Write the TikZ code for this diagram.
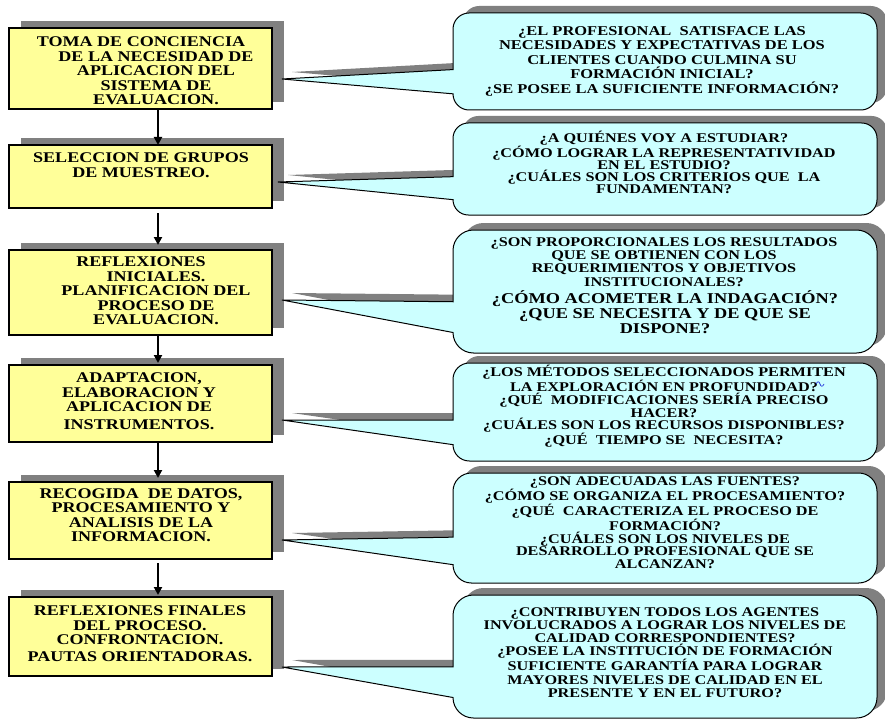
\documentclass[tikz,border=0pt]{standalone}
\usepackage{fontspec}
\setmainfont{Liberation Serif}
\newfontfamily\bx[FakeStretch=1.22]{Liberation Serif}
\usetikzlibrary{arrows.meta,calc,shadows}
\definecolor{yfill}{RGB}{255,255,153}
\definecolor{cfillc}{RGB}{204,255,255}
\definecolor{shd}{RGB}{128,128,128}
\definecolor{spell}{RGB}{40,60,220}
\tikzset{
  ybox/.style={draw=black, line width=1.2pt, fill=yfill, minimum width=263pt, inner sep=0pt, outer sep=0pt,
    drop shadow={shadow xshift=12pt, shadow yshift=7pt, fill=shd, opacity=1}},
  btext/.style={align=center, inner sep=0pt, font=\bx\bfseries\fontsize{14.8}{14.5}\selectfont},
  ctext/.style 2 args={align=center, inner sep=0pt, font=\bx\bfseries\fontsize{#1}{#2}\selectfont},
  flow/.style={line width=2.4pt, -{Triangle[length=8pt,width=8pt]}},
  cbody/.style={draw=black, line width=1pt, fill=cfillc},
  cshadow/.style={fill=shd},
}
\newcommand\qpath[3]{(453+#2,\cB+\cR+#3) -- (453+#2,\cYb+#3) -- ($(#1)+(#2,#3)$) -- (453+#2,\cYa+#3) -- (453+#2,\cT-\cR+#3) arc[start angle=180,end angle=90,radius=\cR] -- (877-\cR+#2,\cT+#3) arc[start angle=90,end angle=0,radius=\cR] -- (877+#2,\cB+\cR+#3) arc[start angle=0,end angle=-90,radius=\cR] -- (453+\cR+#2,\cB+#3) arc[start angle=270,end angle=180,radius=\cR] -- cycle}
\newcommand\qcallout[3]{%
  \pgfmathsetmacro\cT{-(#1)}%
  \pgfmathsetmacro\cB{-(#2)}%
  \pgfmathsetmacro\cR{((#2)-(#1))/6}%
  \pgfmathsetmacro\cYa{-((#1)+7*((#2)-(#1))/12)}%
  \pgfmathsetmacro\cYb{-((#1)+10*((#2)-(#1))/12)}%
  \fill[cshadow] \qpath{#3}{10}{7};
  \draw[cbody] \qpath{#3}{0}{0};
}
\begin{document}
\begin{tikzpicture}[x=1pt,y=1pt]
\useasboundingbox[fill=white] (0,0) rectangle (885,-722);

% process boxes
\node[ybox, minimum height=81pt] (b1) at (140.5,-68.5) {};
\node[ybox, minimum height=63pt] (b2) at (140.5,-176.5) {};
\node[ybox, minimum height=85pt] (b3) at (140.5,-292.5) {};
\node[ybox, minimum height=77pt] (b4) at (140.5,-403.5) {};
\node[ybox, minimum height=77pt] (b5) at (140.5,-520.5) {};
\node[ybox, minimum height=79pt] (b6) at (140.5,-636.5) {};

\node[btext] (t1) at (156,-71) {TOMA DE CONCIENCIA\hspace*{30pt}\\DE LA NECESIDAD DE\\APLICACION DEL\\SISTEMA DE\\EVALUACION.};
\node[btext] (t2) at (141,-165) {SELECCION DE GRUPOS\\DE MUESTREO.};
\node[btext] (t3) at (156,-291) {REFLEXIONES\hspace*{30pt}\\INICIALES.\\PLANIFICACION DEL\\PROCESO DE\\EVALUACION.};
\node[btext] (t4) at (139,-401) {ADAPTACION,\\ELABORACION Y\\APLICACION DE\\[3pt]INSTRUMENTOS.};
\node[btext] (t5) at (141,-515) {RECOGIDA~ DE DATOS,\\PROCESAMIENTO Y\\ANALISIS DE LA\\INFORMACION.};
\node[btext] (t6) at (140,-633.5) {REFLEXIONES FINALES\\DEL PROCESO.\\CONFRONTACION.\\[2pt]PAUTAS ORIENTADORAS.};

% flow arrows
\draw[flow] ([xshift=17.5pt]b1.south) -- ([xshift=17.5pt]b2.north);
\draw[flow, shorten <=5pt, shorten >=5pt] ([xshift=17.5pt]b2.south) -- ([xshift=17.5pt]b3.north);
\draw[flow, shorten >=2pt] ([xshift=17.5pt]b3.south) -- ([xshift=17.5pt]b4.north);
\draw[flow, shorten >=4pt] ([xshift=17.5pt]b4.south) -- ([xshift=17.5pt]b5.north);
\draw[flow, shorten <=4pt, shorten >=2pt] ([xshift=17.5pt]b5.south) -- ([xshift=17.5pt]b6.north);

% callout tips
\coordinate (tip1) at ($(b1.east)+(10,-10.5)$);
\coordinate (tip2) at ($(b2.east)+(6,-5.5)$);
\coordinate (tip3) at ($(b3.east)+(10,-7.5)$);
\coordinate (tip4) at ($(b4.east)+(10,-16.5)$);
\coordinate (tip5) at ($(b5.east)+(10,-19.5)$);
\coordinate (tip6) at ($(b6.east)+(10,-30.5)$);

% callouts
\qcallout{13}{110}{tip1}
\qcallout{123}{215}{tip2}
\qcallout{230}{353}{tip3}
\qcallout{363}{461}{tip4}
\qcallout{473}{583}{tip5}
\qcallout{595}{718}{tip6}

\node[ctext={13.5}{14.5}] (q1) at (662,-61) {¿EL PROFESIONAL~ SATISFACE LAS\\NECESIDADES Y EXPECTATIVAS DE LOS\\CLIENTES CUANDO CULMINA SU\\FORMACIÓN INICIAL?\\¿SE POSEE LA SUFICIENTE INFORMACIÓN?};
\node[ctext={13.3}{12}] (q2) at (664,-162) {¿A QUIÉNES VOY A ESTUDIAR?\\¿CÓMO LOGRAR LA REPRESENTATIVIDAD\\EN EL ESTUDIO?\\¿CUÁLES SON LOS CRITERIOS QUE~ LA\\FUNDAMENTAN?};
\node[ctext={13.3}{13.3}] (q3a) at (664,-262) {¿SON PROPORCIONALES LOS RESULTADOS\\QUE SE OBTIENEN CON LOS\\REQUERIMIENTOS Y OBJETIVOS\\INSTITUCIONALES?};
\node[ctext={15}{15}] (q3b) at (665,-312) {¿CÓMO ACOMETER LA INDAGACIÓN?\\¿QUE SE NECESITA Y DE QUE SE\\DISPONE?};
\node[ctext={13.3}{12.6}] (q4) at (664,-406.5) {¿LOS MÉTODOS SELECCIONADOS PERMITEN\\LA EXPLORACIÓN EN PROFUNDIDAD?\\¿QUÉ~ MODIFICACIONES SERÍA PRECISO\\HACER?\\¿CUÁLES SON LOS RECURSOS DISPONIBLES?\\¿QUÉ~ TIEMPO SE~ NECESITA?};
\draw[spell, line width=0.7pt] (816,-384) .. controls (817.5,-381) and (819,-381) .. (820,-384) .. controls (821,-387) and (822.5,-387) .. (824,-384);
\node[ctext={13.3}{12.5}] (q5) at (665,-522.5) {¿SON ADECUADAS LAS FUENTES?\\¿CÓMO SE ORGANIZA EL PROCESAMIENTO?\\¿QUÉ~ CARACTERIZA EL PROCESO DE\\FORMACIÓN?\\¿CUÁLES SON LOS NIVELES DE\\DESARROLLO PROFESIONAL QUE SE\\ALCANZAN?};
\node[ctext={13.3}{13.2}] (q6) at (665,-652.5) {¿CONTRIBUYEN TODOS LOS AGENTES\\INVOLUCRADOS A LOGRAR LOS NIVELES DE\\CALIDAD CORRESPONDIENTES?\\¿POSEE LA INSTITUCIÓN DE FORMACIÓN\\SUFICIENTE GARANTÍA PARA LOGRAR\\MAYORES NIVELES DE CALIDAD EN EL\\PRESENTE Y EN EL FUTURO?};
\end{tikzpicture}
\end{document}
